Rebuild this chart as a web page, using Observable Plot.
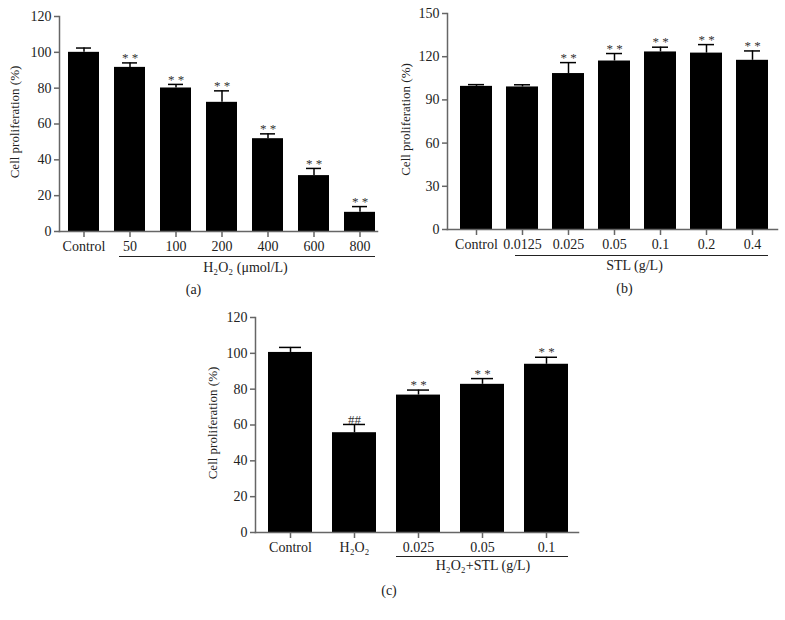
<!DOCTYPE html>
<html>
<head>
<meta charset="utf-8">
<script src="https://cdn.jsdelivr.net/npm/d3@7"></script>
<script src="https://cdn.jsdelivr.net/npm/@observablehq/plot@0.6"></script>
<style>
  html, body { margin: 0; padding: 0; background: #fff; }
  #wrap { position: relative; width: 785px; height: 620px; background: #fff; overflow: hidden; }
  #wrap > svg { position: absolute; }
</style>
</head>
<body>
<div id="wrap"></div>
<script>
// ---------- Data ----------
const yLabel = "Cell proliferation (%)";

// Panel (a)
const aCategories = ["Control", "50", "100", "200", "400", "600", "800"];
const aValues = [100, 91.6, 80.1, 72.1, 51.8, 31.2, 10.7];
const aErrors = [2.4, 2.5, 2.0, 6.4, 2.7, 4.0, 3.2];
const aMarks = ["", "* *", "* *", "* *", "* *", "* *", "* *"];
const aYTicks = [0, 20, 40, 60, 80, 100, 120];
const aGroupLabel = "H₂O₂ (μmol/L)";
const aPanelLabel = "(a)";

// Panel (b)
const bCategories = ["Control", "0.0125", "0.025", "0.05", "0.1", "0.2", "0.4"];
const bValues = [99.4, 99.0, 108.3, 117.0, 123.3, 122.5, 117.5];
const bErrors = [1.2, 1.5, 7.6, 5.2, 3.3, 5.9, 6.5];
const bMarks = ["", "", "* *", "* *", "* *", "* *", "* *"];
const bYTicks = [0, 30, 60, 90, 120, 150];
const bGroupLabel = "STL (g/L)";
const bPanelLabel = "(b)";

// Panel (c)
const cCategories = ["Control", "H₂O₂", "0.025", "0.05", "0.1"];
const cValues = [100.5, 55.7, 76.7, 82.7, 93.9];
const cErrors = [2.8, 4.6, 2.8, 3.2, 3.9];
const cMarks = ["", "##", "* *", "* *", "* *"];
const cYTicks = [0, 20, 40, 60, 80, 100, 120];
const cGroupLabel = "H₂O₂+STL (g/L)";
const cPanelLabel = "(c)";

// ---------- Drawing ----------
const AXIS = "#666";
const FONT = "'Liberation Serif', 'Times New Roman', serif";

function panel(cfg) {
  const rows = cfg.categories.map((c, i) => ({
    cat: c, value: cfg.values[i], upper: cfg.values[i] + cfg.errors[i], mark: cfg.marks[i]
  }));
  const first = cfg.categories[cfg.groupFrom];
  const last = cfg.categories[cfg.categories.length - 1];
  const L = cfg.layout;
  const svg = Plot.plot({
    width: L.width, height: L.height,
    marginLeft: L.ml, marginRight: L.mr, marginTop: L.mt, marginBottom: L.mb,
    style: { fontFamily: FONT, fontSize: "14px", color: "#222", background: "transparent", overflow: "visible" },
    x: { domain: cfg.categories, range: L.xRange, paddingInner: L.pi, paddingOuter: L.pi / 2, label: null },
    y: { domain: [0, cfg.yTicks[cfg.yTicks.length - 1]], label: null },
    marks: [
      Plot.barY(rows, { x: "cat", y: "value", fill: "#000" }),
      Plot.ruleX(rows, { x: "cat", y1: "value", y2: "upper", stroke: "#000", strokeWidth: 1.5 }),
      Plot.tickY(rows, { x: "cat", y: "upper", stroke: "#000", strokeWidth: 1.5, insetLeft: L.cap, insetRight: L.cap }),
      Plot.text(rows, { x: "cat", y: "upper", text: "mark", dy: -5, fontSize: 13, fill: "#333" }),
      Plot.frame({ anchor: "left", stroke: AXIS, strokeWidth: 1.5 }),
      Plot.frame({ anchor: "bottom", stroke: AXIS, strokeWidth: 1.5 }),
      Plot.axisY({ ticks: cfg.yTicks, tickSize: 5, tickPadding: 3, stroke: AXIS, strokeWidth: 1.5, tickFormat: d => d, fontSize: 14, label: null }),
      Plot.axisX({ tickSize: 6, tickPadding: 4, stroke: AXIS, strokeWidth: 1.5, fontSize: 14, label: null }),
      Plot.text([yLabel], { frameAnchor: "left", textAnchor: "middle", rotate: -90, dx: L.ylabDx, dy: -2, fontSize: 13 }),
      Plot.ruleY([{ y: 0, x1: first, x2: last }], { y: "y", x1: "x1", x2: "x2", dy: L.ulineDy, stroke: "#222", strokeWidth: 1.2, insetLeft: L.ulInset }),
      Plot.text([cfg.groupLabel], { frameAnchor: "bottom", textAnchor: "middle", dx: L.glDx, dy: L.glDy, fontSize: 14 }),
      Plot.text([cfg.panelLabel], { frameAnchor: "bottom", textAnchor: "middle", dx: L.plDx, dy: L.plDy, fontSize: 14 })
    ]
  });
  svg.style.left = L.left + "px";
  svg.style.top = L.top + "px";
  document.getElementById("wrap").appendChild(svg);
}

panel({
  categories: aCategories, values: aValues, errors: aErrors, marks: aMarks, yTicks: aYTicks,
  groupLabel: aGroupLabel, panelLabel: aPanelLabel, groupFrom: 1,
  layout: { left: 0, top: 0, width: 390, height: 310, ml: 59, mr: 13, mt: 16, mb: 79,
    xRange: [59, 383], pi: 0.335, cap: 8, ylabDx: -45, ulineDy: 25, ulInset: 5,
    glDx: 27, glDy: 40, plDx: -25, plDy: 62 }
});

panel({
  categories: bCategories, values: bValues, errors: bErrors, marks: bMarks, yTicks: bYTicks,
  groupLabel: bGroupLabel, panelLabel: bPanelLabel, groupFrom: 1,
  layout: { left: 390, top: 0, width: 395, height: 310, ml: 57, mr: 8, mt: 13, mb: 81,
    xRange: [63, 385], pi: 0.31, cap: 8, ylabDx: -42, ulineDy: 26, ulInset: 9,
    glDx: 22, glDy: 40, plDx: 12, plDy: 63 }
});

panel({
  categories: cCategories, values: cValues, errors: cErrors, marks: cMarks, yTicks: cYTicks,
  groupLabel: cGroupLabel, panelLabel: cPanelLabel, groupFrom: 2,
  layout: { left: 180, top: 300, width: 410, height: 320, ml: 75, mr: 12, mt: 17, mb: 88,
    xRange: [75.6, 399.6], pi: 0.32, cap: 11, ylabDx: -43, ulineDy: 24, ulInset: 0,
    glDx: 66, glDy: 37, plDx: -28, plDy: 62 }
});
</script>
</body>
</html>
